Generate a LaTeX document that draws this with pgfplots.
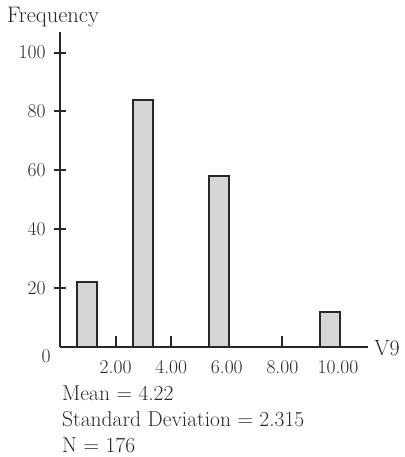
\documentclass[border=0pt]{standalone}
\usepackage{fontspec}
\usepackage{pgfplots}
\pgfplotsset{compat=1.18}
\definecolor{barfill}{RGB}{214,214,214}
\definecolor{ink}{RGB}{40,40,40}
\begin{document}
\begin{tikzpicture}
\useasboundingbox (-60pt,-110pt) rectangle (344pt,347pt);
\begin{axis}[
  at={(0,0)}, anchor=south west,
  scale only axis, width=308pt, height=315pt,
  xmin=0, xmax=11.08, ymin=0, ymax=107,
  axis x line=bottom, axis y line=left,
  axis line style={-, line width=2pt, ink},
  xtick={2,4,6,8,10}, xticklabels={2.00,4.00,6.00,8.00,10.00},
  ytick={20,40,60,80,100},
  /pgf/number format/assume math mode=true,
  tick style={line width=2pt, ink},
  tick align=center, major tick length=12pt,
  x tick style={yshift=5pt},
  ticklabel style={font=\fontsize{19.5}{22}\selectfont, text=ink},
  xticklabel style={yshift=-4pt},
  yticklabel style={xshift=-5pt},
  clip=false,
]
\addplot[ybar, bar width=20pt, fill=barfill, draw=ink, line width=2pt]
  coordinates {(0.97,22) (2.97,84) (5.72,58) (9.71,12)};
\end{axis}
\begin{scope}[every node/.style={text=ink, font=\fontsize{21.5}{24}\selectfont}]
\node[font=\fontsize{22.5}{26}\selectfont] at (-7pt,330pt) {Frequency};
\node[font=\fontsize{22}{26}\selectfont] at (327pt,-1pt) {V9};
\node[font=\fontsize{19.5}{22}\selectfont] at (-14pt,-9pt) {0};
\node[anchor=west, inner sep=0pt] at (2pt,-46pt) {Mean = 4.22};
\node[anchor=west, inner sep=0pt] at (2pt,-72pt) {Standard Deviation = 2.315};
\node[anchor=west, inner sep=0pt] at (2pt,-98pt) {N = 176};
\end{scope}
\end{tikzpicture}
\end{document}
